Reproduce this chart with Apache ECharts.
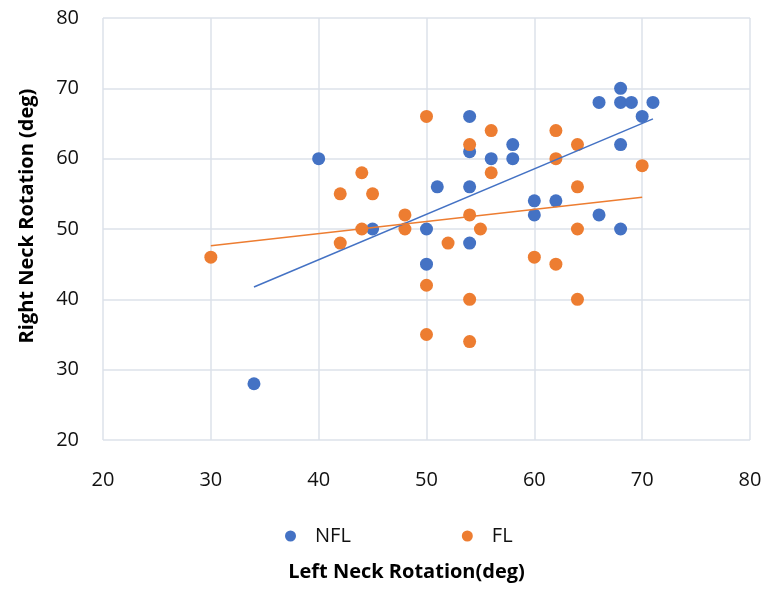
<!DOCTYPE html>
<html><head><meta charset="utf-8">
<script src="https://cdn.jsdelivr.net/npm/echarts@6/dist/echarts.min.js"></script>
<style>html,body{margin:0;padding:0;background:#fff}#c{width:767px;height:590px}</style>
</head><body><div id="c"></div>
<script>
const xTicks = [20, 30, 40, 50, 60, 70, 80];
const yTicks = [20, 30, 40, 50, 60, 70, 80];
const nflX = [34,40,45,50,50,51,54,54,54,54,56,58,58,60,60,62,66,66,68,68,68,68,69,70,71];
const nflY = [28,60,50,50,45,56,66,61,56,48,60,62,60,54,52,54,68,52,70,68,62,50,68,66,68];
const flX = [30,42,42,44,44,45,48,48,50,50,50,52,54,54,54,54,55,56,56,60,62,62,62,64,64,64,64,70];
const flY = [46,55,48,58,50,55,52,50,66,42,35,48,62,52,40,34,50,64,58,46,64,60,45,62,56,50,40,59];

function pairs(xs, ys){ return xs.map((x,i)=>[x, ys[i]]); }
function trend(xs, ys){
  const n = xs.length;
  const mx = xs.reduce((a,b)=>a+b,0)/n, my = ys.reduce((a,b)=>a+b,0)/n;
  let sxy=0, sxx=0;
  for(let i=0;i<n;i++){ sxy+=(xs[i]-mx)*(ys[i]-my); sxx+=(xs[i]-mx)*(xs[i]-mx); }
  const b = sxy/sxx, a = my - b*mx;
  const x0 = Math.min(...xs), x1 = Math.max(...xs);
  return [[x0, a+b*x0],[x1, a+b*x1]];
}
const BLUE = '#4472C4', ORANGE = '#ED7D31';
const FONT = '"Open Sans", "Noto Sans", sans-serif';
const chart = echarts.init(document.getElementById('c'));
chart.setOption({
  animation: false,
  textStyle: {fontFamily: FONT},
  grid: {left: 103, right: 17, top: 18, bottom: 150, containLabel: false},
  xAxis: {
    type: 'value', min: xTicks[0], max: xTicks[xTicks.length-1], interval: 10,
    axisLine: {show: false}, axisTick: {show: false},
    splitLine: {show: true, lineStyle: {color: '#DDE2EA', width: 1.5}},
    axisLabel: {fontSize: 20, color: '#111', margin: 30, fontFamily: FONT},
    name: 'Left Neck Rotation(deg)', nameLocation: 'middle', nameGap: 122,
    nameTextStyle: {fontSize: 20, fontWeight: 'bold', color: '#000', fontFamily: FONT, padding: [0,40,0,0]}
  },
  yAxis: {
    type: 'value', min: yTicks[0], max: yTicks[yTicks.length-1], interval: 10,
    axisLine: {show: false}, axisTick: {show: false},
    splitLine: {show: true, lineStyle: {color: '#DDE2EA', width: 1.5}},
    axisLabel: {fontSize: 20, color: '#111', margin: 24, fontFamily: FONT},
    name: 'Right Neck Rotation (deg)', nameLocation: 'middle', nameGap: 66,
    nameTextStyle: {fontSize: 20, fontWeight: 'bold', color: '#000', fontFamily: FONT, padding: [0,0,0,26]}
  },
  legend: {
    data: ['NFL', 'FL'], left: 280, top: 521, itemGap: 111,
    icon: 'circle', itemWidth: 11, itemHeight: 11,
    textStyle: {fontSize: 20, color: '#111', padding: [0,0,0,14], fontFamily: FONT}
  },
  series: [
    {name: 'NFL', type: 'scatter', data: pairs(nflX, nflY), symbolSize: 13, itemStyle: {color: BLUE, opacity: 1}, z: 3},
    {name: 'FL', type: 'scatter', data: pairs(flX, flY), symbolSize: 13, itemStyle: {color: ORANGE, opacity: 1}, z: 3},
    {name: 'NFL trend', type: 'line', data: trend(nflX, nflY), symbol: 'none', lineStyle: {color: BLUE, width: 1.5}, z: 4},
    {name: 'FL trend', type: 'line', data: trend(flX, flY), symbol: 'none', lineStyle: {color: ORANGE, width: 1.5}, z: 4}
  ]
});
</script></body></html>
